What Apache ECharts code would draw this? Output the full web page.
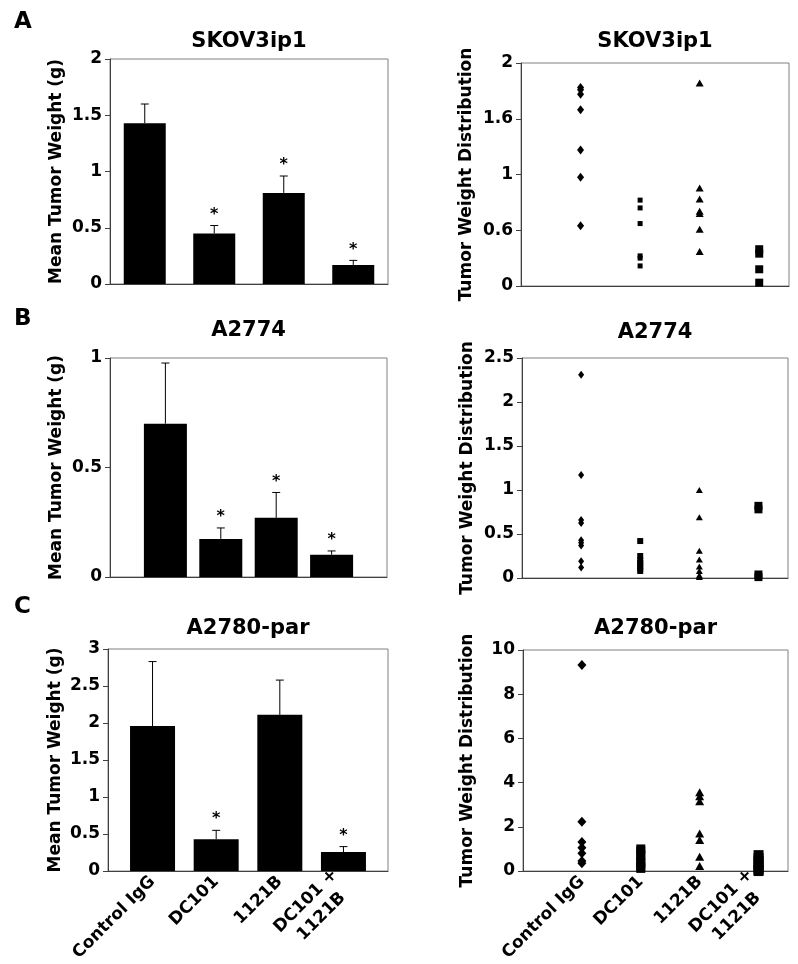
<!DOCTYPE html>
<html>
<head>
<meta charset="utf-8">
<script src="https://cdn.jsdelivr.net/npm/echarts@6/dist/echarts.min.js"></script>
<style>
  html, body { margin: 0; padding: 0; background: #fff; }
  #chart { width: 798px; height: 964px; }
</style>
</head>
<body>
<div id="chart"></div>
<script>
const groups = ['Control IgG', 'DC101', '1121B', 'DC101 +\n1121B'];
const groupPos = [1, 2, 3, 4];

// A - SKOV3ip1
const skovMean = [1.43, 0.45, 0.81, 0.17];
const skovErr = [0.17, 0.07, 0.15, 0.04];
const skovSig = [0, 1, 1, 1];
const skovControl = [1.78, 1.76, 1.72, 1.58, 1.22, 0.975, 0.54];
const skovDC101 = [0.77, 0.70, 0.56, 0.27, 0.25, 0.18];
const skov1121B = [1.82, 0.88, 0.78, 0.67, 0.65, 0.51, 0.31];
const skovCombo = [0.33, 0.29, 0.15, 0.03];
const skovBarTicks = ['0', '0.5', '1', '1.5', '2'];
const skovDistTicks = ['0', '0.6', '1', '1.6', '2'];

// B - A2774
const a2774Mean = [0.70, 0.174, 0.27, 0.102];
const a2774Err = [0.277, 0.05, 0.116, 0.017];
const a2774Sig = [0, 1, 1, 1];
const a2774Control = [2.31, 1.17, 0.66, 0.625, 0.43, 0.40, 0.37, 0.19, 0.12];
const a2774DC101 = [0.42, 0.25, 0.20, 0.17, 0.14, 0.11, 0.08];
const a27741121B = [1.0, 0.69, 0.31, 0.21, 0.13, 0.08, 0.03, 0.01];
const a2774Combo = [0.82, 0.78, 0.04, 0.01];

// C - A2780-par
const a2780Mean = [1.96, 0.43, 2.11, 0.256];
const a2780Err = [0.87, 0.12, 0.47, 0.074];
const a2780Sig = [0, 1, 0, 1];
const a2780Control = [9.32, 2.23, 1.31, 1.05, 0.80, 0.45, 0.35];
const a2780DC101 = [1.0, 0.9, 0.7, 0.5, 0.35, 0.2, 0.12];
const a27801121B = [3.56, 3.38, 3.16, 1.70, 1.40, 0.65, 0.23];
const a2780Combo = [0.72, 0.58, 0.44, 0.30, 0.16, 0.05, 0.0];

const FONT = 'DejaVu Sans';
const grids = [], xAxes = [], yAxes = [], series = [], titles = [];

function renderErr(params, api) {
  const x = api.value(0);
  const p0 = api.coord([x, api.value(1)]);
  const p1 = api.coord([x, api.value(2)]);
  const kids = [
    { type: 'line', shape: { x1: p0[0], y1: p0[1], x2: p1[0], y2: p1[1] }, style: { stroke: '#000', lineWidth: 1 } },
    { type: 'line', shape: { x1: p1[0] - 4, y1: p1[1], x2: p1[0] + 4, y2: p1[1] }, style: { stroke: '#000', lineWidth: 1 } }
  ];
  if (api.value(3)) {
    kids.push({ type: 'text', style: { text: '*', x: p1[0], y: p1[1] - 3, align: 'center', verticalAlign: 'bottom',
      font: 'bold 16px "' + FONT + '"', fill: '#000' } });
  }
  return { type: 'group', children: kids };
}

function xLabel(v) {
  const i = Math.round(v) - 1;
  if (i === 3) return '{c|DC101 +}\n{c|1121B}';
  return groups[i] || '';
}

function addPanel(p) {
  const gi = grids.length;
  grids.push({ left: p.rect[0], top: p.rect[1], width: p.rect[2], height: p.rect[3],
    show: true, borderColor: '#808080', borderWidth: 1, containLabel: false });
  xAxes.push({
    gridIndex: gi, type: 'value', min: p.xr[0], max: p.xr[1],
    axisLine: { show: true, onZero: false, lineStyle: { color: '#404040' } },
    axisTick: { show: false }, splitLine: { show: false },
    axisLabel: {
      show: !!p.xlabels, customValues: groupPos, rotate: 45, margin: 8, formatter: xLabel,
      fontFamily: FONT, fontSize: 17, fontWeight: 'bold', color: '#000',
      rich: { c: { width: 84, align: 'center', fontFamily: FONT, fontSize: 17, fontWeight: 'bold', color: '#000', lineHeight: 22 } }
    }
  });
  yAxes.push({
    gridIndex: gi, type: 'value', min: p.yr[0], max: p.yr[1], interval: p.yr[2],
    name: p.yname, nameLocation: 'middle', nameGap: p.nameGap,
    nameTextStyle: { fontFamily: FONT, fontSize: 17, fontWeight: 'bold', color: '#000' },
    axisLine: { show: true, lineStyle: { color: '#404040' } },
    axisTick: { show: true, length: 5, lineStyle: { color: '#404040' } },
    splitLine: { show: false },
    axisLabel: { margin: 8, fontFamily: FONT, fontSize: 17, fontWeight: 'bold', color: '#000',
      formatter: p.ticks ? (v) => p.ticks[Math.round((v - p.yr[0]) / p.yr[2])] : null }
  });
  titles.push({ text: p.title, left: p.rect[0] + p.rect[2] / 2, top: p.titleTop, textAlign: 'center', padding: 0,
    textStyle: { fontFamily: FONT, fontSize: 21, fontWeight: 'bold', color: '#000' } });
  return gi;
}

function barPanel(p, means, errs, sig, barWidth) {
  const gi = addPanel(p);
  series.push({ type: 'bar', xAxisIndex: gi, yAxisIndex: gi, barWidth: barWidth,
    itemStyle: { color: '#000' }, data: means.map((m, i) => [groupPos[i], m]) });
  series.push({ type: 'custom', xAxisIndex: gi, yAxisIndex: gi, renderItem: renderErr, z: 3,
    encode: { x: 0, y: [1, 2] }, data: means.map((m, i) => [groupPos[i], m, m + errs[i], sig[i]]) });
}

function distPanel(p, sets, sizes) {
  const gi = addPanel(p);
  const shapes = ['diamond', 'rect', 'triangle', 'rect'];
  sets.forEach((vals, i) => {
    series.push({ type: 'scatter', xAxisIndex: gi, yAxisIndex: gi, symbol: shapes[i], symbolSize: sizes[i],
      itemStyle: { color: '#000', opacity: 1 }, data: vals.map(v => [groupPos[i], v]) });
  });
}

barPanel({ rect: [110, 59, 278, 225], xr: [0.5, 4.5], yr: [0, 2, 0.5], ticks: skovBarTicks,
  yname: 'Mean Tumor Weight (g)', nameGap: 45, title: 'SKOV3ip1', titleTop: 31 },
  skovMean, skovErr, skovSig, 42);
distPanel({ rect: [521, 63, 268, 223], xr: [0, 4.5], yr: [0, 2, 0.5], ticks: skovDistTicks,
  yname: 'Tumor Weight Distribution', nameGap: 46, title: 'SKOV3ip1', titleTop: 31 },
  [skovControl, skovDC101, skov1121B, skovCombo], [[7, 9], 5, [8, 7], 8]);

barPanel({ rect: [110, 358, 277, 219], xr: [0, 5], yr: [0, 1, 0.5],
  yname: 'Mean Tumor Weight (g)', nameGap: 45, title: 'A2774', titleTop: 320 },
  a2774Mean, a2774Err, a2774Sig, 43);
distPanel({ rect: [522, 358, 266, 220], xr: [0, 4.5], yr: [0, 2.5, 0.5],
  yname: 'Tumor Weight Distribution', nameGap: 46, title: 'A2774', titleTop: 322 },
  [a2774Control, a2774DC101, a27741121B, a2774Combo], [[6, 8], 6, [7, 6], 8]);

barPanel({ rect: [108, 649, 280, 223], xr: [0.3, 4.7], yr: [0, 3, 0.5], xlabels: true,
  yname: 'Mean Tumor Weight (g)', nameGap: 44, title: 'A2780-par', titleTop: 618 },
  a2780Mean, a2780Err, a2780Sig, 45);
distPanel({ rect: [523, 650, 265, 222], xr: [0, 4.5], yr: [0, 10, 2], xlabels: true,
  yname: 'Tumor Weight Distribution', nameGap: 47, title: 'A2780-par', titleTop: 618 },
  [a2780Control, a2780DC101, a27801121B, a2780Combo], [[9, 10], 9, [9, 8], 10]);

const panelLetters = [['A', 11], ['B', 308], ['C', 596]];

const chart = echarts.init(document.getElementById('chart'), null, { renderer: 'canvas' });
chart.setOption({
  backgroundColor: '#fff',
  animation: false,
  textStyle: { fontFamily: FONT, fontWeight: 'bold', color: '#000' },
  title: titles,
  graphic: panelLetters.map(([t, y]) => ({
    type: 'text', left: 14, top: y,
    style: { text: t, font: 'bold 23px "' + FONT + '"', fill: '#000' }
  })),
  grid: grids,
  xAxis: xAxes,
  yAxis: yAxes,
  series: series
});
</script>
</body>
</html>
